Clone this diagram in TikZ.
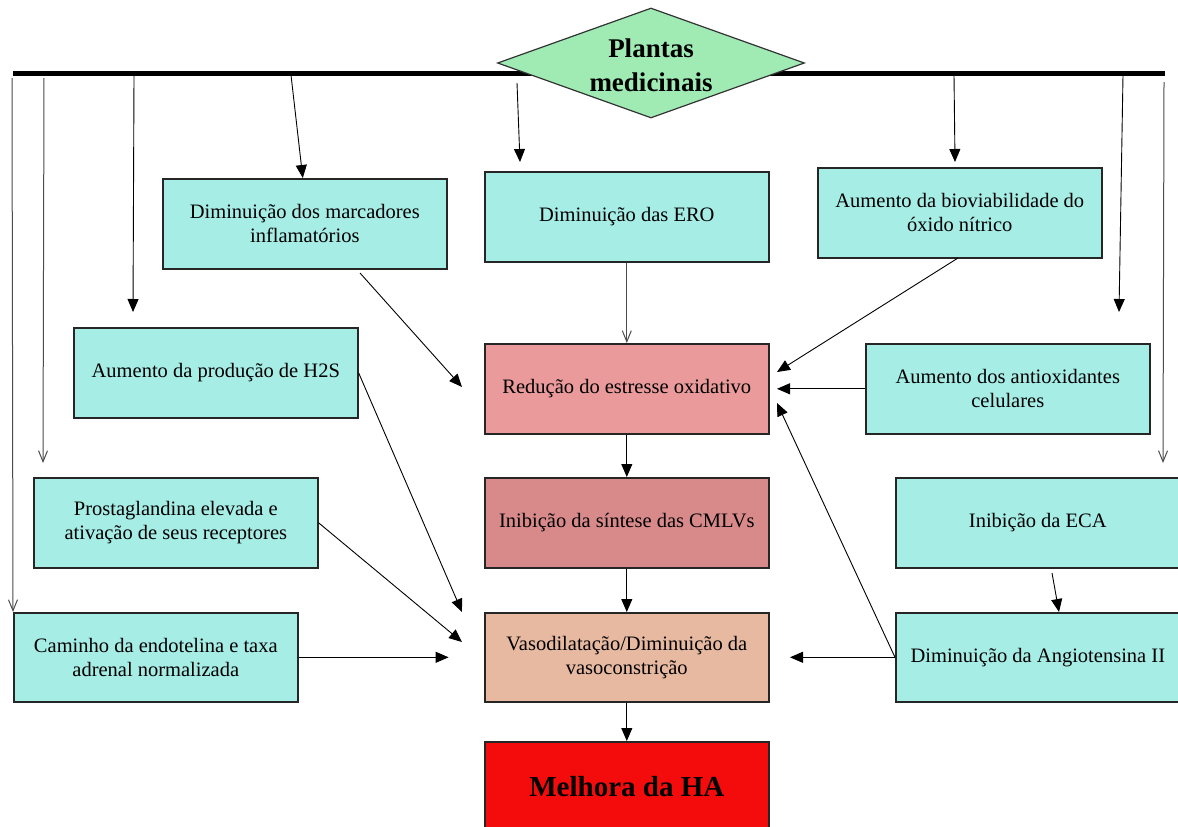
\documentclass[tikz,border=0pt]{standalone}
\usepackage{fontspec}
\setmainfont{Liberation Serif}
\usetikzlibrary{arrows.meta,shapes.geometric,calc}
\definecolor{cyanbox}{RGB}{166,237,230}
\definecolor{greenbox}{RGB}{160,235,180}
\definecolor{redbox}{RGB}{234,154,154}
\definecolor{inibbox}{RGB}{216,138,138}
\definecolor{vasobox}{RGB}{232,185,161}
\definecolor{habox}{RGB}{244,12,12}
\begin{document}
\begin{tikzpicture}[x=1pt,y=-1pt,
  box/.style={draw=black!85,line width=1.6pt,fill=cyanbox,minimum width=284pt,minimum height=90pt,
    inner sep=0pt,align=center,anchor=north west,font=\fontsize{20.5}{24}\selectfont},
  arr/.style={draw=black,line width=0.9pt,-{Triangle[length=13pt,width=11pt]}},
  oarr/.style={draw=black!70,line width=1pt,-{Straight Barb[length=11pt,width=9pt,line width=1pt]}},
]
\useasboundingbox[fill=white] (0,0) rectangle (1178,827);

% top bar and diamond
\coordinate (barL) at (13,73);
\coordinate (barR) at (1165,73);
\draw[line width=5pt] (barL) -- (barR);
\node[diamond,draw=black!80,line width=1.2pt,fill=greenbox,aspect=2.79,minimum width=307pt,minimum height=110pt,inner sep=0pt] (pm) at (651,63) {};
\node[font=\bfseries\fontsize{27}{34}\selectfont,align=center] (pmtext) at (651,65) {Plantas\\medicinais};

% boxes
\node[box] (marc) at (162,178) {Diminuição dos marcadores\\inflamatórios};
\node[box] (ero) at (484,171) {Diminuição das ERO};
\node[box] (bio) at (817,167) {Aumento da bioviabilidade do\\óxido nítrico};
\node[box] (h2s) at (73,327) {Aumento da produção de H2S};
\node[box,fill=redbox] (red) at (484,343) {Redução do estresse oxidativo};
\node[box] (anti) at (865,343) {Aumento dos antioxidantes\\celulares};
\node[box] (prost) at (33,477) {Prostaglandina elevada e\\ativação de seus receptores};
\node[box,fill=inibbox] (inib) at (484,477) {Inibição da síntese das CMLVs};
\node[box] (eca) at (895,477) {Inibição da ECA};
\node[box,minimum height=89pt] (cam) at (13,612) {Caminho da endotelina e taxa\\adrenal normalizada};
\node[box,fill=vasobox,minimum height=89pt] (vaso) at (484,612) {Vasodilatação/Diminuição da\\vasoconstrição};
\node[box,minimum height=89pt] (angio) at (895,612) {Diminuição da Angiotensina II};
\node[box,fill=habox,minimum height=89pt,font=\bfseries\fontsize{29}{34}\selectfont] (ha) at (484,741) {Melhora da HA};

% arrows from the bar
\coordinate (s1) at (291,75);
\draw[arr] (s1) -- ($(marc.north)+(-2,0)$);
\coordinate (s2) at (517,83);
\coordinate (e2) at (520,162);
\draw[arr] (s2) -- (e2);
\coordinate (s3) at (954,75);
\coordinate (e3) at (955,162);
\draw[arr] (s3) -- (e3);
\coordinate (s4) at (134,76);
\coordinate (e4) at (133,312);
\draw[arr] (s4) -- (e4);
\coordinate (s5) at (44,78);
\coordinate (e5) at (43,463);
\draw[oarr] (s5) -- (e5);
\coordinate (s6) at (12,78);
\draw[oarr] (s6) -- (cam.north west);
\coordinate (s7) at (1123,75);
\coordinate (e7) at (1119,312);
\draw[arr] (s7) -- (e7);
\coordinate (s8) at (1164,82);
\coordinate (e8) at (1163,463);
\draw[oarr] (s8) -- (e8);

% arrows between boxes
\coordinate (m1) at (360,273);
\coordinate (m2) at (462,387);
\draw[arr] (m1) -- (m2);
\draw[oarr] (ero.south) -- (red.north);
\coordinate (b1) at (958,258);
\coordinate (b2) at (777,372);
\draw[arr] (b1) -- (b2);
\coordinate (a2) at ($(anti.west)+(-88,0)$);
\draw[arr] (anti.west) -- (a2);
\coordinate (g2) at (777,403);
\draw[arr] (angio.west) -- (g2);
\coordinate (g3) at ($(angio.west)+(-105,0)$);
\draw[arr] (angio.west) -- (g3);
\coordinate (h2) at (462,612);
\draw[arr] (h2s.east) -- (h2);
\coordinate (p2) at (462,642);
\draw[arr] (prost.east) -- (p2);
\coordinate (c2) at ($(cam.east)+(150,0)$);
\draw[arr] (cam.east) -- (c2);
\draw[arr] (red.south) -- (inib.north);
\draw[arr] (inib.south) -- (vaso.north);
\draw[arr] (vaso.south) -- (ha.north);
\coordinate (k1) at (1052,573);
\draw[arr] (k1) -- ($(angio.north west)+(164,0)$);
\end{tikzpicture}
\end{document}
